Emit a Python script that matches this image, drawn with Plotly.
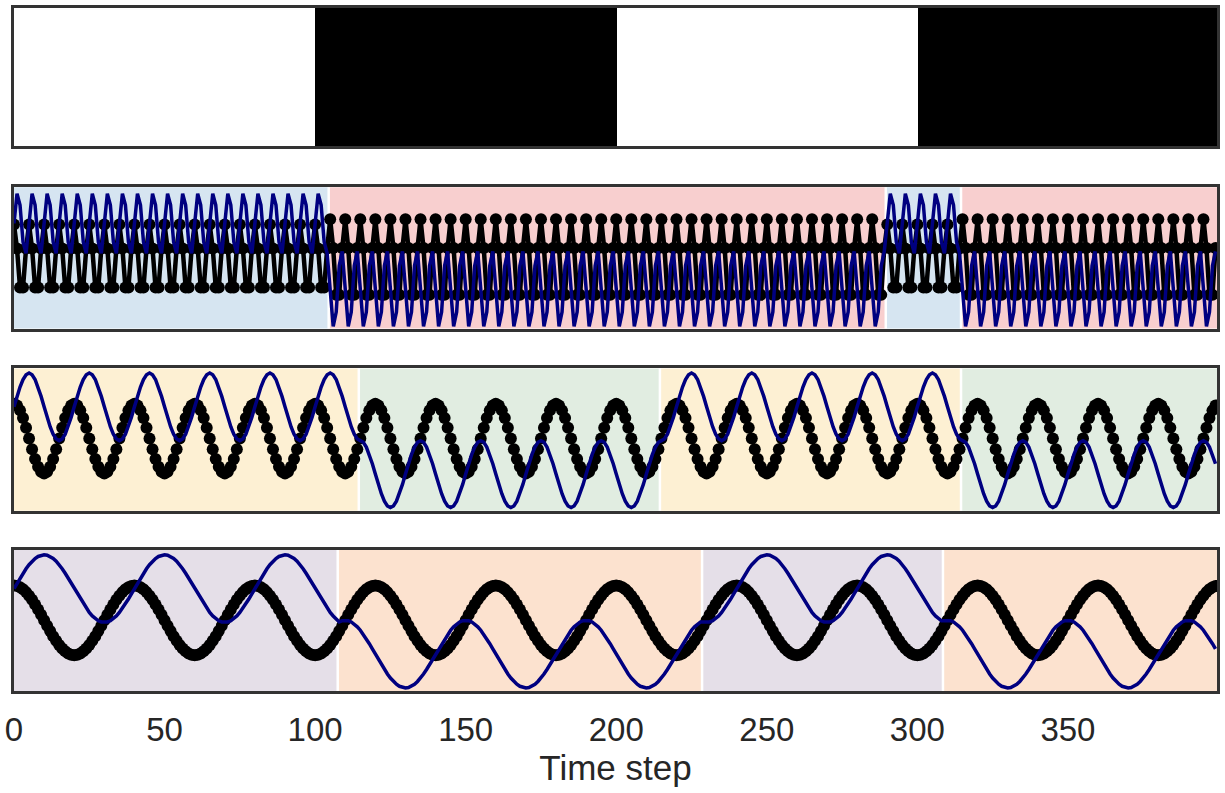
import numpy as np
import plotly.graph_objects as go

N = 400
t = np.arange(N)

# class segments (start index, label) for each panel
p1_starts = [0, 100, 200, 300]
p1_labels = [0, 1, 0, 1]
p2_starts = [0, 105, 290, 315]
p2_labels = [0, 1, 0, 1]
p3_starts = [0, 115, 215, 315]
p3_labels = [0, 1, 0, 1]
p4_starts = [0, 108, 229, 309]
p4_labels = [0, 1, 0, 1]

# wave parameters (per class 0 / class 1)
p2_period = 5
p2_black_amp = [1.0, 1.2]
p2_black_off = [-0.04, -0.09]
p2_blue_amp = [0.9, -1.13]
p2_blue_off = [0.99, -0.89]

p3_period = 20
p3_black_amp = [1.0, 1.0]
p3_black_off = [0.03, 0.03]
p3_blue_amp = [0.97, -0.96]
p3_blue_off = [0.94, -0.99]

p4_period = 40
p4_black_amp = [1.0, 1.0]
p4_black_off = [0.0, 0.0]
p4_blue_amp = [0.97, -0.97]
p4_blue_off = [0.91, -0.97]

tick_vals = [0, 50, 100, 150, 200, 250, 300, 350]
x_label = "Time step"

bg_colors = {
    2: ["#d6e5f1", "#f8cfcf"],
    3: ["#fdf0d3", "#e1ede1"],
    4: ["#e5dfe8", "#fce2cf"],
}


def label_array(starts, labels):
    lab = np.zeros(N, dtype=int)
    for s, l in zip(starts, labels):
        lab[s:] = l
    return lab


def waves(starts, labels, period, bamp, boff, uamp, uoff):
    lab = label_array(starts, labels)
    ph = 2 * np.pi * t / period
    black = np.array(boff)[lab] + np.array(bamp)[lab] * np.cos(ph)
    blue = np.array(uoff)[lab] + np.array(uamp)[lab] * np.sin(ph)
    return lab, black, blue


fig = go.Figure()
shapes = []

H = 793.0
top_m, bot_m = 5, 101
ph_ = H - top_m - bot_m
frames_px = {1: (5, 144), 2: (185, 327), 3: (367, 510), 4: (549, 691)}
domains = {k: [(H - bot_m - b) / ph_, (H - bot_m - a) / ph_] for k, (a, b) in frames_px.items()}

# panel 1: class label strip
lab1 = label_array(p1_starts, p1_labels)
fig.add_trace(go.Heatmap(x=t + 0.5, y=[0], z=[lab1], colorscale=[[0, "white"], [1, "black"]],
                         showscale=False, xaxis="x", yaxis="y", hoverinfo="skip"))

panels = [
    (2, p2_starts, p2_labels, p2_period, p2_black_amp, p2_black_off, p2_blue_amp, p2_blue_off, 12, 4.5),
    (3, p3_starts, p3_labels, p3_period, p3_black_amp, p3_black_off, p3_blue_amp, p3_blue_off, 12, 3),
    (4, p4_starts, p4_labels, p4_period, p4_black_amp, p4_black_off, p4_blue_amp, p4_blue_off, 12, 3),
]

for (k, st, lb, per, ba, bo, ua, uo, msize, lw) in panels:
    lab, black, blue = waves(st, lb, per, ba, bo, ua, uo)
    xa = "x%d" % k
    ya = "y%d" % k
    # background spans from label runs
    edges = [0] + [i for i in range(1, N) if lab[i] != lab[i - 1]] + [N]
    for a, b in zip(edges[:-1], edges[1:]):
        shapes.append(dict(type="rect", xref=xa, yref=ya + " domain", x0=a - 0.5, x1=b - 0.5,
                           y0=0, y1=1, fillcolor=bg_colors[k][lab[a]], line=dict(width=0), layer="below"))
    for e in edges[1:-1]:
        shapes.append(dict(type="line", xref=xa, yref=ya + " domain", x0=e - 0.5, x1=e - 0.5,
                           y0=0, y1=1, line=dict(color="white", width=2.5), layer="below"))
    fig.add_trace(go.Scatter(x=t, y=black, mode="lines+markers", xaxis=xa, yaxis=ya,
                             line=dict(color="black", width=lw),
                             marker=dict(color="black", size=msize), showlegend=False, hoverinfo="skip"))
    fig.add_trace(go.Scatter(x=t, y=blue, mode="lines", xaxis=xa, yaxis=ya,
                             line=dict(color="#000080", width=3.5), showlegend=False, hoverinfo="skip"))

axis_common = dict(showline=True, mirror=True, linecolor="#333333", linewidth=2.5,
                   showgrid=False, zeroline=False, ticks="")

layout = dict(width=1225, height=793, plot_bgcolor="white", paper_bgcolor="white",
              margin=dict(l=11, r=5, t=top_m, b=bot_m), showlegend=False, shapes=shapes,
              font=dict(family="Liberation Sans, Arial, sans-serif", color="#262626"))

for k in range(1, 5):
    xname = "xaxis" if k == 1 else "xaxis%d" % k
    yname = "yaxis" if k == 1 else "yaxis%d" % k
    yref = "y" if k == 1 else "y%d" % k
    xd = dict(axis_common, range=[0, 399.5], anchor=yref, showticklabels=False)
    if k != 1:
        xd["matches"] = "x"
    if k == 4:
        xd.update(showticklabels=True, tickvals=tick_vals, ticktext=[str(v) for v in tick_vals],
                  tickfont=dict(size=33, color="#262626"), ticklabelstandoff=8,
                  title=dict(text=x_label, font=dict(size=35, color="#262626"), standoff=4))
    layout[xname] = xd
    hpx = frames_px[k][1] - frames_px[k][0]
    yr = (hpx / 2) / 35.0
    yd = dict(axis_common, domain=domains[k], anchor="x" if k == 1 else "x%d" % k,
              showticklabels=False, range=[-yr, yr] if k != 1 else [-0.5, 0.5])
    layout[yname] = yd

fig.update_layout(**layout)
fig.write_html("out.html")
